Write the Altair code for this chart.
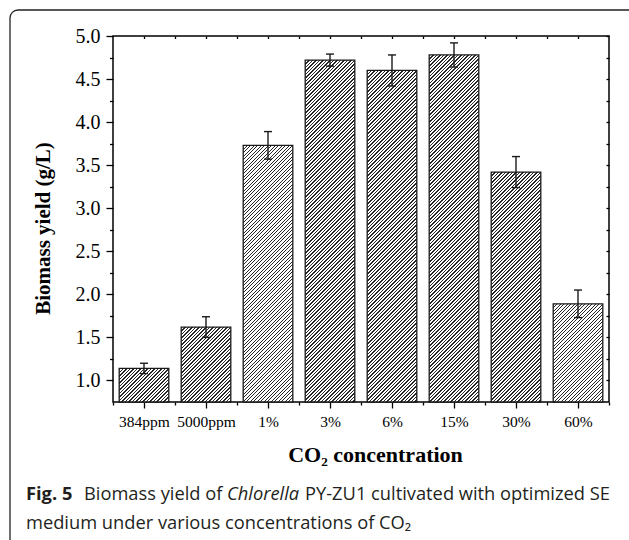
import altair as alt
import pandas as pd

# ---------------- data ----------------
categories = ["384ppm", "5000ppm", "1%", "3%", "6%", "15%", "30%", "60%"]
biomass = [1.14, 1.62, 3.73, 4.72, 4.60, 4.78, 3.42, 1.89]
errors = [0.06, 0.12, 0.16, 0.07, 0.18, 0.14, 0.18, 0.16]
y_major_ticks = [1.0, 1.5, 2.0, 2.5, 3.0, 3.5, 4.0, 4.5, 5.0]
y_minor_ticks = [1.25, 1.75, 2.25, 2.75, 3.25, 3.75, 4.25, 4.75]
y_right_ticks = [1.0, 1.25, 1.5, 1.75, 2.0, 2.25, 2.5, 2.75, 3.0, 3.25, 3.5,
                 3.75, 4.0, 4.25, 4.5, 4.75, 5.0]
x_major_ticks = [0, 1, 2, 3, 4, 5, 6, 7]
x_minor_ticks = [-0.5, 0.5, 1.5, 2.5, 3.5, 4.5, 5.5, 6.5, 7.5]
x_top_ticks = [0, 0.5, 1, 1.5, 2, 2.5, 3, 3.5, 4, 4.5, 5, 5.5, 6, 6.5, 7]
y_title = "Biomass yield (g/L)"
x_title = "CO₂ concentration"
caption_line1 = ["Fig. 5", "Biomass yield of", "Chlorella", "PY-ZU1 cultivated with optimized SE"]
caption_line2 = ["medium under various concentrations of CO₂"]

# ---------------- layout / style ----------------
W, H = 496, 366
PAD_L, PAD_T = 113, 36
PAD_R, PAD_B = 629 - PAD_L - W, 540 - PAD_T - H
X_MIN, X_MAX = -0.5, 7.5
Y_MIN, Y_MAX = 0.75, 5.0
BAR_HALF = 0.4
SERIF = "Liberation Serif"
SANS = "Open Sans"
INK = "#1a1a1a"
CAP_SIZE = 18.3

df = pd.DataFrame({
    "cat": categories,
    "idx": list(range(len(categories))),
    "value": biomass,
    "err": errors,
})

xs = alt.Scale(domain=[X_MIN, X_MAX], nice=False, zero=False)
ys = alt.Scale(domain=[Y_MIN, Y_MAX], nice=False, zero=False)


def hatch(w, h, period=3.5, dark=1.4, ink="#262626", paper="#ffffff"):
    """Diagonal '/' hatch as a linear gradient in bounding-box units."""
    L = w + h
    k = L / (w * w + h * h)
    stops = []
    s = 0.0
    while s < L:
        a = s / L
        b = min((s + dark) / L, 1.0)
        stops.append({"offset": round(a, 5), "color": ink})
        stops.append({"offset": round(b, 5), "color": ink})
        if b < 1.0:
            nxt = min((s + period) / L, 1.0)
            stops.append({"offset": round(b, 5), "color": paper})
            stops.append({"offset": round(nxt, 5), "color": paper})
        s += period
    return {"gradient": "linear", "x1": 0, "y1": 0,
            "x2": round(w * k, 5), "y2": round(h * k, 5), "stops": stops}


base = alt.Chart(df).transform_calculate(
    lo="datum.idx - %f" % BAR_HALF,
    hi="datum.idx + %f" % BAR_HALF,
    elo="datum.value - datum.err",
    ehi="datum.value + datum.err",
)

# bars (one layer per bar so each gets its own hatch geometry)
bar_layers = []
band_px = W / (X_MAX - X_MIN)
for i, v in enumerate(biomass):
    w_px = 2 * BAR_HALF * band_px
    h_px = (v - Y_MIN) / (Y_MAX - Y_MIN) * H
    bar_layers.append(
        base.transform_filter(alt.datum.idx == i)
        .mark_rect(fill=hatch(w_px, h_px), stroke=INK, strokeWidth=1.3)
        .encode(
            x=alt.X("lo:Q", scale=xs, axis=None),
            x2="hi:Q",
            y=alt.Y("value:Q", scale=ys, axis=None),
            y2=alt.datum(Y_MIN),
        )
    )

err_rule = base.mark_rule(color=INK, strokeWidth=1.4).encode(
    x=alt.X("idx:Q", scale=xs, axis=None),
    y=alt.Y("elo:Q", scale=ys, axis=None),
    y2="ehi:Q",
)
cap_hi = base.mark_tick(orient="horizontal", size=8, thickness=1.4, color=INK, opacity=1).encode(
    x=alt.X("idx:Q", scale=xs, axis=None),
    y=alt.Y("ehi:Q", scale=ys, axis=None),
)
cap_lo = base.mark_tick(orient="horizontal", size=8, thickness=1.4, color=INK, opacity=1).encode(
    x=alt.X("idx:Q", scale=xs, axis=None),
    y=alt.Y("elo:Q", scale=ys, axis=None),
)

label_expr = "[" + ",".join("'%s'" % c for c in categories) + "][datum.value]"

tick_style = dict(tickColor="black", tickWidth=1.3, domain=False, grid=False)

axes_main = base.mark_point(opacity=0).encode(
    x=alt.X("idx:Q", scale=xs, axis=alt.Axis(
        orient="bottom", values=x_major_ticks, labelExpr=label_expr,
        labelFont=SERIF, labelFontSize=15.5, labelColor="black", labelPadding=6,
        labelFlush=False, labelOverlap=False, tickSize=6,
        title=x_title, titleFont=SERIF, titleFontSize=22, titleFontWeight="bold",
        titleColor="black", titleX=262, titleY=59, titleAlign="center",
        titleBaseline="alphabetic", **tick_style)),
    y=alt.Y("value:Q", scale=ys, axis=alt.Axis(
        orient="left", values=y_major_ticks, format=".1f",
        labelFont=SERIF, labelFontSize=20, labelColor="black", labelPadding=6,
        labelFlush=False, labelOverlap=False, tickSize=7,
        title=y_title, titleFont=SERIF, titleFontSize=21, titleFontWeight="bold",
        titleColor="black", titleAngle=-90, titleX=-64, titleY=192,
        titleAlign="center", titleBaseline="alphabetic", **tick_style)),
)
axes_minor = base.mark_point(opacity=0).encode(
    x=alt.X("idx:Q", scale=xs, axis=alt.Axis(
        orient="bottom", values=x_minor_ticks, labels=False, tickSize=3,
        title=None, **tick_style)),
    y=alt.Y("value:Q", scale=ys, axis=alt.Axis(
        orient="left", values=y_minor_ticks, labels=False, tickSize=3.5,
        title=None, **tick_style)),
)
axes_mirror = base.mark_point(opacity=0).encode(
    x=alt.X("idx:Q", scale=xs, axis=alt.Axis(
        orient="top", values=x_top_ticks, labels=False, tickSize=2.5, offset=-2.5,
        title=None, **tick_style)),
    y=alt.Y("value:Q", scale=ys, axis=alt.Axis(
        orient="right", values=y_right_ticks, labels=False, tickSize=3, offset=-3,
        title=None, **tick_style)),
)

one = alt.Chart(pd.DataFrame({"k": [0]}))

frame = one.mark_rect(stroke="#222222", strokeWidth=1.3, fillOpacity=0, cornerRadius=8).encode(
    x=alt.value(10 - PAD_L), x2=alt.value(637 - PAD_L),
    y=alt.value(10 - PAD_T), y2=alt.value(547 - PAD_T),
)


def cap_text(txt, px, py, weight="normal", style="normal"):
    return one.mark_text(
        align="left", baseline="alphabetic", font=SANS, fontSize=CAP_SIZE,
        fontWeight=weight, fontStyle=style, color="#231f20",
    ).encode(x=alt.value(px - PAD_L), y=alt.value(py - PAD_T), text=alt.value(txt))


captions = [
    cap_text(caption_line1[0], 26, 500, weight="bold"),
    cap_text(caption_line1[1], 84, 500),
    cap_text(caption_line1[2], 227, 500, style="italic"),
    cap_text(caption_line1[3], 305, 500),
    cap_text(caption_line2[0], 26, 529),
]

chart = alt.layer(
    frame, *bar_layers, err_rule, cap_hi, cap_lo,
    axes_main, axes_minor, axes_mirror, *captions,
).resolve_axis(x="independent", y="independent").properties(
    width=W, height=H,
    padding={"left": PAD_L, "top": PAD_T, "right": PAD_R, "bottom": PAD_B},
    autosize=alt.AutoSizeParams(type="none"),
    background="white",
).configure_view(stroke="black", strokeWidth=1.5)

chart.save("out.html", embed_options={"renderer": "svg", "actions": False})
